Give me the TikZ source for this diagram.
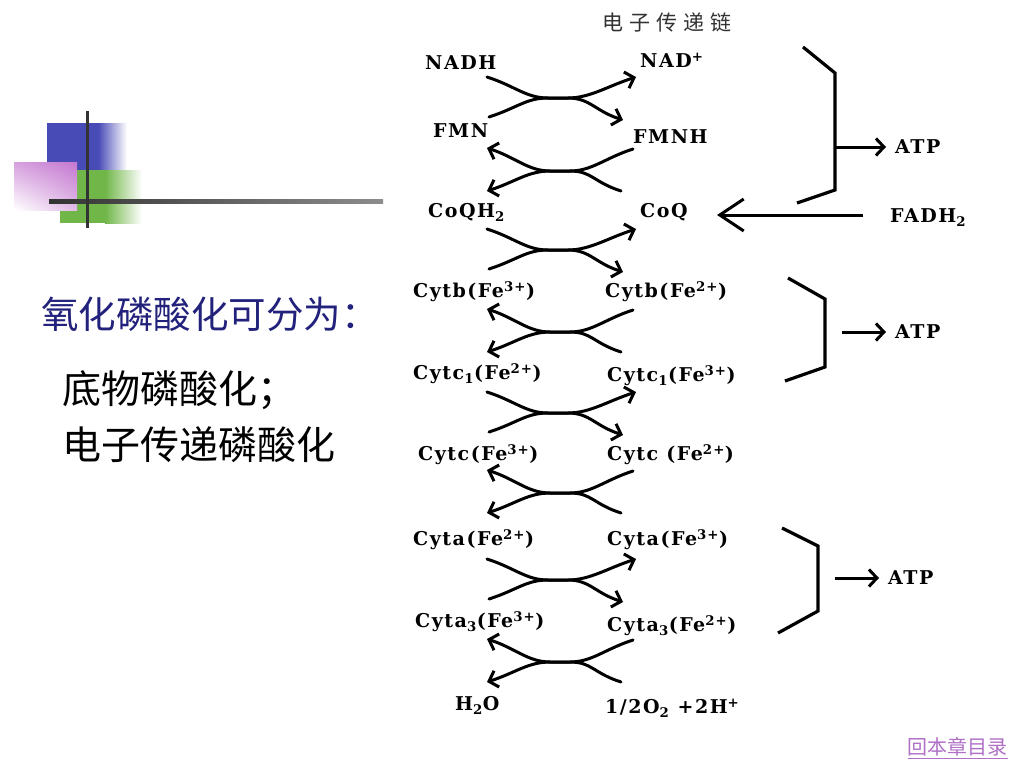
\documentclass[tikz,border=0pt]{standalone}
\usepackage{fontspec}
\usepackage{xcolor}
\usepackage{tikz}
\usetikzlibrary{arrows.meta,shadings}
\newfontfamily\cjk{Noto Sans CJK SC}
\newfontfamily\chemfont{DejaVu Serif}[LetterSpace=8]
\definecolor{navy}{RGB}{34,34,124}
\definecolor{decoblue}{RGB}{72,74,182}
\definecolor{decogreen}{RGB}{112,182,72}
\definecolor{decopink}{RGB}{196,120,208}
\definecolor{linkc}{RGB}{176,112,200}

\begin{document}
\begin{tikzpicture}[x=1pt,y=-1pt,
  chem/.style={anchor=west,inner sep=0pt,font=\chemfont\bfseries\fontsize{19}{19}\selectfont},
  heading/.style={anchor=west,inner sep=0pt,font=\cjk\fontsize{39}{39}\selectfont},
  chain/.style={line width=3pt,line cap=round},
  arrowed/.style={-{Straight Barb[length=8pt,width=17pt]}},
  bracket/.style={line width=3.2pt,line join=miter},
  atparrow/.style={line width=3pt,-{Straight Barb[length=8pt,width=17pt]},shorten >=9pt},
  bigarrow/.style={line width=3pt,-{Straight Barb[length=24pt,width=32pt]}}]
\useasboundingbox (0,0) rectangle (1024,768);
\fill[white] (0,0) rectangle (1024,768);

% corner decoration
\fill[decoblue] (47,123) rectangle (98,172);
\shade[left color=decoblue,right color=white] (98,123) rectangle (127,172);
\fill[decogreen] (60,170) rectangle (105,223);
\shade[left color=decogreen,right color=white] (105,170) rectangle (142,223);
\shade[upper right=decopink,upper left=decopink!70,lower right=decopink!50,lower left=white] (14,162) rectangle (77,210);
\shade[left color=black!80,right color=black!45] (49,199) rectangle (383,203);
\draw[line width=3pt,black!80] (87,111) -- (87,228);

% left text
\node[heading,text=navy,font=\cjk\fontsize{37.5}{37.5}\selectfont] (title) at (41,314) {氧化磷酸化可分为：};
\node[heading] (sub1) at (62,390) {底物磷酸化；};
\node[heading] (sub2) at (62,445) {电子传递磷酸化};

% chain
\node[font=\cjk\fontsize{21}{21}\selectfont,text=black!80] (chainname) at (667,22) {电\hspace{6pt}子\hspace{6pt}传\hspace{6pt}递\hspace{6pt}链};
\node[chem] (nadh) at (425,63) {NADH};
\node[chem] (nad) at (640,60) {NAD\textsuperscript{+}};
\node[chem] (fmn) at (433,131) {FMN};
\node[chem] (fmnh) at (633,137) {FMNH};
\node[chem] (coqh) at (428,212) {CoQH\textsubscript{2}};
\node[chem] (coq) at (640,212) {CoQ};
\node[chem] (cytbl) at (413,292) {Cytb(Fe\textsuperscript{3+})};
\node[chem] (cytbr) at (605,292) {Cytb(Fe\textsuperscript{2+})};
\node[chem] (cytcil) at (413,374) {Cytc\textsubscript{1}(Fe\textsuperscript{2+})};
\node[chem] (cytcir) at (607,376) {Cytc\textsubscript{1}(Fe\textsuperscript{3+})};
\node[chem] (cytcl) at (418,455) {Cytc(Fe\textsuperscript{3+})};
\node[chem] (cytcr) at (607,455) {Cytc (Fe\textsuperscript{2+})};
\node[chem] (cytal) at (413,540) {Cyta(Fe\textsuperscript{2+})};
\node[chem] (cytar) at (607,540) {Cyta(Fe\textsuperscript{3+})};
\node[chem] (cytaiiil) at (415,622) {Cyta\textsubscript{3}(Fe\textsuperscript{3+})};
\node[chem] (cytaiiir) at (607,626) {Cyta\textsubscript{3}(Fe\textsuperscript{2+})};
\node[chem] (water) at (455,705) {H\textsubscript{2}O};
\node[chem] (oxygen) at (605,708) {1/2O\textsubscript{2} +2H\textsuperscript{+}};

% crossings, left to right
\foreach \m [count=\i] in {98,250,413,580} {
  \coordinate (ftl\i) at (487,\m-21);
  \coordinate (fbl\i) at (489,\m+19);
  \coordinate (ftr\i) at (636,\m-21);
  \coordinate (fbr\i) at (623,\m+22);
  \coordinate (fm\i) at (558,\m);
  \draw[chain,arrowed] (ftl\i) .. controls +(28,9) and +(-22,0) .. ([xshift=-10pt]fm\i) -- ([xshift=10pt]fm\i) .. controls +(22,0) and +(-28,-9) .. (fbr\i);
  \draw[chain,arrowed] (fbl\i) .. controls +(28,-9) and +(-22,0) .. ([xshift=-10pt]fm\i) -- ([xshift=10pt]fm\i) .. controls +(22,0) and +(-28,9) .. (ftr\i);
}
% crossings, right to left
\foreach \m [count=\i] in {171,332,493,662} {
  \coordinate (btl\i) at (487,\m-23);
  \coordinate (bbl\i) at (487,\m+20);
  \coordinate (btr\i) at (633,\m-22);
  \coordinate (bbr\i) at (621,\m+20);
  \coordinate (bm\i) at (560,\m);
  \draw[chain,arrowed] (btr\i) .. controls +(-28,9) and +(22,0) .. ([xshift=10pt]bm\i) -- ([xshift=-10pt]bm\i) .. controls +(-22,0) and +(28,-9) .. (bbl\i);
  \draw[chain,arrowed] (bbr\i) .. controls +(-28,-9) and +(22,0) .. ([xshift=10pt]bm\i) -- ([xshift=-10pt]bm\i) .. controls +(-22,0) and +(28,9) .. (btl\i);
}

% ATP sites
\draw[bracket] (803,47) -- (835,73) -- (835,190) -- (797,203);
\draw[bracket] (788,278) -- (825,299) -- (825,367) -- (785,381);
\draw[bracket] (782,528) -- (818,546) -- (818,611) -- (778,633);
\node[chem] (atpi) at (895,147) {ATP};
\node[chem] (atpii) at (895,332) {ATP};
\node[chem] (atpiii) at (888,578) {ATP};
\coordinate (sitei) at (835,147);
\coordinate (siteii) at (842,332);
\coordinate (siteiii) at (835,578);
\draw[atparrow] (sitei) -- (atpi.west);
\draw[atparrow] (siteii) -- (atpii.west);
\draw[atparrow] (siteiii) -- (atpiii.west);

\node[chem] (fadh) at (890,218) {FADH\textsubscript{2}};
\coordinate (fadhtail) at (863,215);
\coordinate (fadhtip) at (717,215);
\draw[bigarrow] (fadhtail) -- (fadhtip);

\node[anchor=east,inner sep=0pt,text=linkc,font=\cjk\fontsize{20}{20}\selectfont] (back) at (1008,748) {\underline{回本章目录}};
\end{tikzpicture}
\end{document}
